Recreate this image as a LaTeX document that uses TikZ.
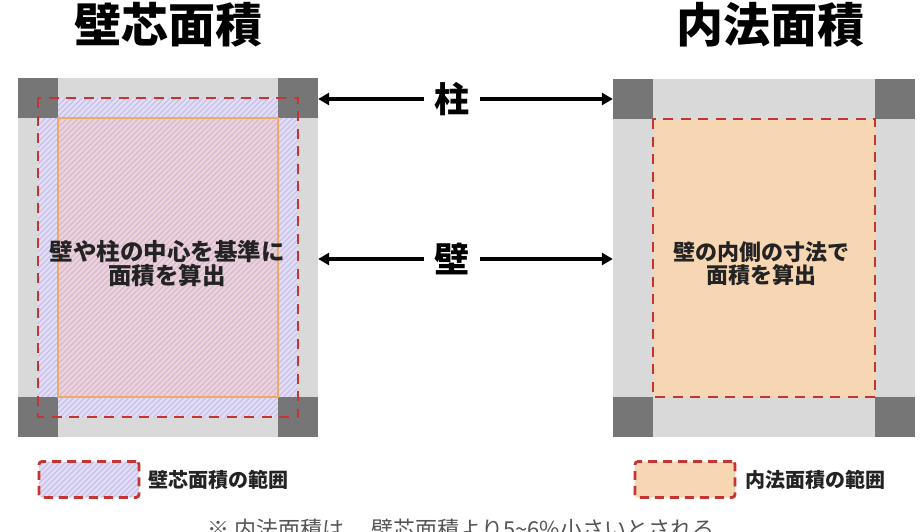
\documentclass[tikz,border=0pt]{standalone}
\usepackage{fontspec}
\setmainfont{Noto Sans CJK JP}
\usetikzlibrary{arrows.meta}
\definecolor{wallgray}{RGB}{217,217,217}
\definecolor{colgray}{RGB}{118,118,118}
\definecolor{areared}{RGB}{196,52,48}
\definecolor{lavender}{RGB}{226,222,244}
\definecolor{hatchline}{RGB}{180,168,226}
\definecolor{rosefill}{RGB}{240,210,214}
\definecolor{orangeline}{RGB}{240,170,100}
\definecolor{peach}{RGB}{247,214,180}
\definecolor{textdark}{RGB}{35,35,35}
\definecolor{notegray}{RGB}{85,85,85}

\begin{document}
\begin{tikzpicture}[x=1pt,y=-1pt,
	wall/.style={shape=rectangle,fill=wallgray,inner sep=0pt},
	column/.style={shape=rectangle,fill=colgray,minimum width=40pt,minimum height=40pt,inner sep=0pt},
	area/.style={draw=areared,line width=2.4pt,dash pattern=on 10pt off 7.5pt},
	hatchstroke/.style={draw=hatchline,line width=1.1pt,opacity=0.55},
	keybox/.style={shape=rectangle,rounded corners=3pt,draw=areared,line width=2.8pt,dash pattern=on 9pt off 6pt,minimum width=100pt,minimum height=36pt,inner sep=0pt},
	arr/.style={-{Triangle[length=11pt,width=12pt]},line width=3.2pt},
	title/.style={font=\bfseries\fontsize{47}{50}\selectfont},
	marklabel/.style={font=\bfseries\fontsize{35}{40}\selectfont,inner sep=10pt}
]
		\path [use as bounding box,fill=white] (0,0) rectangle (921,531);
		\clip (0,0) rectangle (921,531);
		\node [title] (titleL) at (168,25) {壁芯面積};
		\node [title] (titleR) at (770,25) {内法面積};
		\node [wall,minimum width=300pt,minimum height=359pt] (Lwall) at (168,257.5) {};
		\node [wall,minimum width=302pt,minimum height=358pt] (Rwall) at (764,258) {};
		\fill [lavender] (38,98) rectangle (298,417);
		\fill [rosefill] (58,118) rectangle (278,397);
		\begin{scope}
			\clip (38,98) rectangle (298,417);
			\foreach \s in {-281,-275.5,...,298}
				\draw [hatchstroke] (\s,417) -- ++(319,-319);
		\end{scope}
		\fill [peach] (653,119) rectangle (875,397);
		\node [column] (LC1) at (38,98) {};
		\node [column] (LC2) at (298,98) {};
		\node [column] (LC3) at (38,417) {};
		\node [column] (LC4) at (298,417) {};
		\node [column] (RC1) at (633,99) {};
		\node [column] (RC2) at (895,99) {};
		\node [column] (RC3) at (633,417) {};
		\node [column] (RC4) at (895,417) {};
		\draw [orangeline,line width=1.5pt] (58,118) rectangle (278,397);
		\draw [area] (38,98) rectangle (298,417);
		\draw [area] (653,119) rectangle (875,397);
		\node [font=\bfseries\fontsize{23.5}{23.5}\selectfont,align=center,text=textdark] (ruleL) at (167,263.5) {壁や柱の中心を基準に\\面積を算出};
		\node [font=\bfseries\fontsize{22}{23.5}\selectfont,align=center,text=textdark] (ruleR) at (761,263.5) {壁の内側の寸法で\\面積を算出};
		\node [marklabel] (pillar) at (452,99) {柱};
		\node [marklabel] (wallmark) at (452,259) {壁};
		\draw [arr] (pillar.west) -- (pillar.west -| LC2.east);
		\draw [arr] (pillar.east) -- (pillar.east -| RC1.west);
		\draw [arr] (wallmark.west) -- (wallmark.west -| Lwall.east);
		\draw [arr] (wallmark.east) -- (wallmark.east -| Rwall.west);
		\fill [lavender,rounded corners=3pt] (39,461.5) rectangle (139,497.5);
		\begin{scope}
			\clip [rounded corners=3pt] (39,461.5) rectangle (139,497.5);
			\foreach \s in {3,8.5,...,139}
				\draw [hatchstroke] (\s,497.5) -- ++(36,-36);
		\end{scope}
		\node [keybox] (keyL) at (89,479.5) {};
		\node [anchor=west,inner sep=0pt,font=\bfseries\fontsize{20}{22}\selectfont,text=textdark] (keyLtext) at (148,480) {壁芯面積の範囲};
		\node [keybox,fill=peach] (keyR) at (685,479.5) {};
		\node [anchor=west,inner sep=0pt,font=\bfseries\fontsize{20}{22}\selectfont,text=textdark] (keyRtext) at (745,480) {内法面積の範囲};
		\node [font=\fontsize{22}{26}\selectfont,text=notegray] (note) at (461,529) {※ 内法面積は、 壁芯面積より5\textasciitilde 6\%小さいとされる};
	\end{tikzpicture}
\end{document}
